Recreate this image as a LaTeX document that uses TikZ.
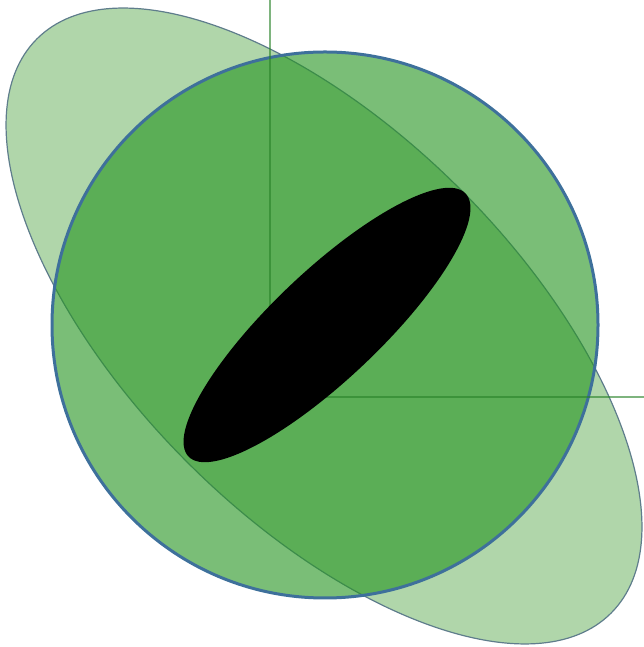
\documentclass[tikz,border=0pt]{standalone}
\usetikzlibrary{calc}
\definecolor{ellfill}{RGB}{176,214,170}
\definecolor{ellline}{RGB}{95,125,140}
\definecolor{circfill}{RGB}{40,150,35}
\definecolor{circline}{RGB}{62,112,155}
\definecolor{axisgreen}{RGB}{40,130,40}
\tikzset{
  bigell/.style={fill=ellfill, draw=ellline, line width=1.2pt},
  circ/.style={fill=circfill, fill opacity=0.62, draw=circline, draw opacity=1, line width=3pt},
  axisline/.style={draw=axisgreen, draw opacity=0.6, line width=1.8pt},
  pupil/.style={fill=black}
}
\begin{document}
\begin{tikzpicture}[x=1pt,y=1pt]
\useasboundingbox (0,0) rectangle (644,647);
\coordinate (c) at (324,321);
\coordinate (top) at (270,647);
\coordinate (corner) at (270,250);
\coordinate (right) at (644,250);
\path[bigell] (c) ellipse [x radius=406, y radius=193, rotate=-45];
\path[circ] (325,322) circle [radius=273];
\draw[axisline] (top) -- (corner) -- (right);
\path[pupil] (327,322) ellipse [x radius=191, y radius=54, rotate=43.5];
\end{tikzpicture}
\end{document}
